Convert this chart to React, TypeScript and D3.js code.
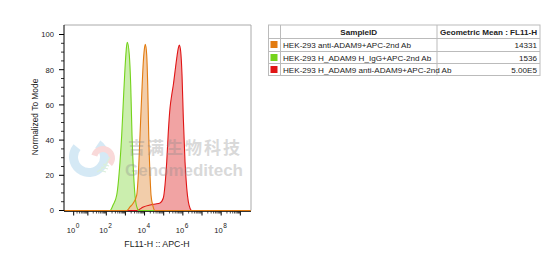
import React from 'react';
import * as d3 from 'd3';

// ---------- data ----------
const sampleIds = [
  'HEK-293 anti-ADAM9+APC-2nd Ab',
  'HEK-293 H_ADAM9 H_IgG+APC-2nd Ab',
  'HEK-293 H_ADAM9 anti-ADAM9+APC-2nd Ab',
];
const geoMeans = ['14331', '1536', '5.00E5'];
const seriesColors = ['#e27b10', '#74d31b', '#e01414'];

// fluorescence intensity (FL11-H) and % of mode
const orangeX = [1171, 1742, 2588, 3897, 4722, 5800, 7115, 8620, 10200, 10970, 12970, 14630, 16500, 19300, 21760, 26700, 35200];
const orangeY = [0, 2, 4.3, 8.8, 20.2, 42.9, 65.6, 84.5, 93.1, 94.4, 88.4, 71.3, 42.9, 20.2, 8.8, 3.1, 0];

const greenX = [157, 226, 352, 524, 642, 778, 955, 1171, 1258, 1601, 1895, 2214, 2588, 3066, 3897, 5136];
const greenY = [0, 3.1, 8.8, 27.7, 42.9, 61.8, 81, 94, 95.6, 88.4, 71.3, 42.9, 24.1, 10.5, 2.2, 0];

const redX = [3897, 8620, 19300, 35200, 64100, 95300, 117000, 143800, 174200, 213600, 262000, 317000, 389000, 478000, 579000, 653000, 772000, 903000, 1056000, 1295000, 1590000, 1926000, 2362000, 2900000];
const redY = [0, 2, 3.1, 3.7, 4.3, 7.1, 14.5, 27.7, 44.8, 58.2, 65.6, 71.3, 78.9, 86.5, 92.2, 94, 90.2, 77, 52.6, 27.7, 12.8, 5, 1.3, 0];

const yTicks = [0, 20, 40, 60, 80, 100];
const xLabelExps = [0, 2, 4, 6, 8];
const xDomain = [-0.6, 3.6e9];
const yDomain = [0, 105.4];

const tableHeaders = ['SampleID', 'Geometric Mean : FL11-H'];

// ---------- layout ----------
const W = 555, H = 263;
const left = 64, right = 251, top = 25, bottom = 210.5;
const FONT = 'Liberation Sans, Arial, sans-serif';

export default function App() {
  const x = d3.scaleSymlog().constant(1).domain(xDomain).range([left, right]);
  const y = d3.scaleLinear().domain(yDomain).range([bottom, top]);

  const mk = (xs: number[], ys: number[]) => {
    const pts: [number, number][] = [[xDomain[0], 0], ...xs.map((v, i) => [v, ys[i]] as [number, number]), [xDomain[1], 0]];
    return pts;
  };
  const series = [
    { pts: mk(redX, redY), color: seriesColors[2], fill: '#ee9393' },
    { pts: mk(greenX, greenY), color: seriesColors[1], fill: '#c2eba0' },
    { pts: mk(orangeX, orangeY), color: seriesColors[0], fill: '#f0c49b' },
  ];
  const area = d3.area<[number, number]>()
    .x(d => x(d[0])).y0(y(0)).y1(d => y(d[1])).curve(d3.curveMonotoneX);
  const line = d3.line<[number, number]>()
    .x(d => x(d[0])).y(d => y(d[1])).curve(d3.curveMonotoneX);

  // x ticks
  const majors: number[] = d3.range(0, 10).map(e => Math.pow(10, e));
  const minors: number[] = [];
  for (let e = 0; e < 9; e++) for (let m = 2; m <= 9; m++) minors.push(m * Math.pow(10, e));
  const yMinor = d3.range(0, 101, 5).filter(v => v % 20 !== 0);

  // logo arcs
  const arcBlue = d3.arc()({ innerRadius: 11, outerRadius: 20, startAngle: 0.6, endAngle: 5.4 } as any) || '';
  const arcPink = d3.arc()({ innerRadius: 6, outerRadius: 12, startAngle: -1.3, endAngle: 2.3 } as any) || '';

  // table layout
  const tx0 = 268.5, tx1 = 280.5, tx2 = 437, tx3 = 540;
  const rowY = [25, 38.5, 51.5, 63.5, 75.5];

  return (
    <svg width={W} height={H} style={{ position: 'absolute', left: 0, top: 0, background: '#fff' }} fontFamily={FONT}>
      {/* histograms */}
      {series.map((s, i) => (
        <path key={i} d={area(s.pts) || ''} fill={s.fill} fillOpacity={0.85} />
      ))}
      {series.map((s, i) => (
        <path key={'l' + i} d={line(s.pts) || ''} fill="none" stroke={s.color} strokeWidth={1.1} />
      ))}

      {/* watermark */}
      <g opacity={0.32}>
        <path d={arcBlue} transform="translate(89,157)" fill="#7fbde3" />
        <path d={arcPink} transform="translate(103,158)" fill="#ee8a8a" />
        <path d="M97,172 q8,-4 13,-15 M99,170 l7,2 M101,167 l7,2 M103,164 l6,2" stroke="#8fcf8f" strokeWidth={1.2} fill="none" />
        <text x={128} y={154} fontSize={17} fontWeight="bold" fill="#8a8a8a" fontFamily="Noto Sans CJK SC, sans-serif" textLength={112}>吉满生物科技</text>
        <text x={125} y={176} fontSize={17} fontWeight="bold" fill="#8a8a8a" fontFamily="Liberation Sans, Arial, sans-serif" textLength={118}>Genomeditech</text>
      </g>

      {/* frame */}
      <line x1={left} x2={right} y1={top} y2={top} stroke="#aaa" />
      <line x1={right} x2={right} y1={top} y2={bottom} stroke="#aaa" />
      <line x1={left} x2={left} y1={top} y2={bottom + 0.5} stroke="#000" />
      <line x1={left} x2={right} y1={bottom + 1} y2={bottom + 1} stroke="#000" strokeWidth={0.8} />

      {/* y axis */}
      {yTicks.map(v => (
        <g key={'y' + v}>
          <line x1={left - 5} x2={left} y1={y(v)} y2={y(v)} stroke="#000" />
          <text x={left - 10} y={y(v) + 2.8} fontSize={7.6} textAnchor="end" fill="#222">{v}</text>
        </g>
      ))}
      {yMinor.map(v => (
        <line key={'ym' + v} x1={left - 3} x2={left} y1={y(v)} y2={y(v)} stroke="#000" strokeWidth={0.8} />
      ))}
      <text transform={`translate(38,117) rotate(-90)`} fontSize={8.4} textAnchor="middle" fill="#222">Normalized To Mode</text>

      {/* x axis */}
      {majors.map((v, i) => (
        <line key={'xM' + i} x1={x(v)} x2={x(v)} y1={bottom + 1} y2={bottom + 5} stroke="#000" />
      ))}
      {minors.map((v, i) => (
        <line key={'xm' + i} x1={x(v)} x2={x(v)} y1={bottom + 1} y2={bottom + 3} stroke="#000" strokeWidth={0.7} />
      ))}
      {xLabelExps.map(e => (
        <text key={'xl' + e} x={x(Math.pow(10, e)) - 7} y={233} fontSize={7.6} fill="#222">
          10<tspan dy={-5.5} dx={0.5} fontSize={6.5}>{e}</tspan>
        </text>
      ))}
      <text x={157} y={247} fontSize={8.8} textAnchor="middle" fill="#222">FL11-H :: APC-H</text>

      {/* table */}
      <rect x={tx0} y={rowY[0]} width={tx3 - tx0} height={rowY[4] - rowY[0]} fill="#fff" stroke="#bbb" strokeWidth={1} />
      {rowY.slice(1, 4).map((ry, i) => (
        <line key={'tr' + i} x1={tx0} x2={tx3} y1={ry} y2={ry} stroke="#bbb" />
      ))}
      <line x1={tx1} x2={tx1} y1={rowY[0]} y2={rowY[4]} stroke="#bbb" />
      <line x1={tx2} x2={tx2} y1={rowY[0]} y2={rowY[4]} stroke="#bbb" />
      <text x={(tx1 + tx2) / 2} y={rowY[0] + 9.8} fontSize={8.1} fontWeight="bold" textAnchor="middle" fill="#222">{tableHeaders[0]}</text>
      <text x={(tx2 + tx3) / 2} y={rowY[0] + 9.8} fontSize={8.1} fontWeight="bold" textAnchor="middle" fill="#222">{tableHeaders[1]}</text>
      {sampleIds.map((sid, i) => (
        <g key={'row' + i}>
          <rect x={tx0 + 2} y={rowY[i + 1] + 2.5} width={7} height={7} fill={seriesColors[i]} />
          <text x={tx1 + 2.5} y={rowY[i + 1] + 9} fontSize={8.1} fill="#222">{sid}</text>
          <text x={tx3 - 3} y={rowY[i + 1] + 9} fontSize={8.1} textAnchor="end" fill="#222">{geoMeans[i]}</text>
        </g>
      ))}
    </svg>
  );
}
